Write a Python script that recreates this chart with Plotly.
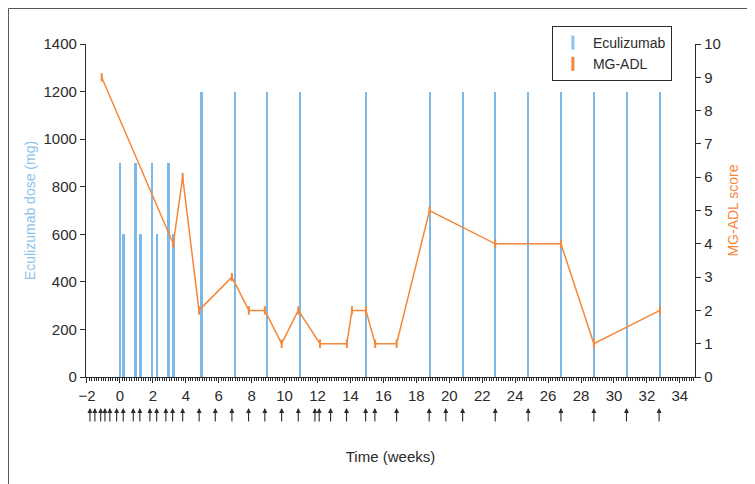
import plotly.graph_objects as go

# ---- data ----
ecu_weeks = [0, 0.22, 0.95, 1.23, 1.94, 2.25, 2.96, 3.24, 4.96, 6.98, 8.93,
             10.93, 14.94, 18.82, 20.83, 22.77, 24.77, 26.78, 28.78, 30.78, 32.79]
ecu_dose = [900, 600, 900, 600, 900, 600, 900, 600, 1200, 1200, 1200,
            1200, 1200, 1200, 1200, 1200, 1200, 1200, 1200, 1200, 1200]

mg_weeks = [-1.11, 3.24, 3.81, 4.8, 6.8, 7.83, 8.8, 9.82, 10.83, 12.15,
            13.78, 14.09, 14.94, 15.5, 16.8, 18.8, 22.79, 26.78, 28.78, 32.79]
mg_score = [9, 4, 6, 2, 3, 2, 2, 1, 2, 1, 1, 2, 2, 1, 1, 5, 4, 4, 1, 2]

arrow_weeks = [-1.82, -1.52, -1.17, -0.91, -0.61, -0.2, 0.2, 0.81, 1.21, 1.82,
               2.23, 2.79, 3.2, 3.81, 4.81, 5.79, 6.8, 7.81, 8.8, 9.82, 10.83,
               11.84, 12.1, 12.79, 13.76, 14.92, 15.48, 16.8, 18.78, 19.79,
               20.81, 22.79, 24.79, 26.78, 28.78, 30.76, 32.74]

x_ticks = list(range(-2, 35, 2))

BLUE = "#7DB9E8"
BLUE_T = "#8DC3EC"
ORANGE = "#F5873A"
DARK = "#2b2b2b"
FONT = "Liberation Sans, Arial, sans-serif"

fig = go.Figure()

fig.add_trace(go.Bar(x=ecu_weeks, y=ecu_dose, width=0.16, marker=dict(color=BLUE, line=dict(width=0)),
                     name="Eculizumab", showlegend=False, yaxis="y"))
fig.add_trace(go.Scatter(x=mg_weeks, y=mg_score, mode="lines+markers", yaxis="y2",
                         line=dict(color=ORANGE, width=1.5),
                         marker=dict(symbol="line-ns", size=6, line=dict(color=ORANGE, width=2)),
                         name="MG-ADL", showlegend=False))
# legend entries (vertical bar symbols)
fig.add_trace(go.Scatter(x=[None], y=[None], mode="markers", name="Eculizumab",
                         marker=dict(symbol="line-ns", size=10, line=dict(color=BLUE_T, width=3))))
fig.add_trace(go.Scatter(x=[None], y=[None], mode="markers", name="MG-ADL", yaxis="y2",
                         marker=dict(symbol="line-ns", size=10, line=dict(color=ORANGE, width=3))))

annotations = []
for t in arrow_weeks:
    annotations.append(dict(x=t, xref="x", y=-0.093, yref="paper", text="", showarrow=True,
                            ax=0, ay=15, axref="pixel", ayref="pixel", arrowhead=2, arrowsize=0.9,
                            arrowwidth=1.1, arrowcolor=DARK, standoff=0, startstandoff=0))

# page is shown with an 8px body offset; the figure is sized to fit that
shapes = [
    dict(type="line", xref="paper", yref="paper", x0=-0.1273, x1=1.2, y0=1.1066, y1=1.1066,
         line=dict(color="#555", width=1)),
    dict(type="line", xref="paper", yref="paper", x0=-0.1273, x1=-0.1273, y0=-0.4, y1=1.1066,
         line=dict(color="#555", width=1)),
]

fig.update_layout(
    width=747, height=476,
    margin=dict(l=78, r=60, t=36, b=107, autoexpand=False),
    paper_bgcolor="white", plot_bgcolor="white",
    font=dict(family=FONT, size=15, color=DARK),
    bargap=0,
    showlegend=True,
    legend=dict(x=0.765, y=1.054, xanchor="left", yanchor="top", bordercolor=DARK, borderwidth=1,
                bgcolor="white", font=dict(size=14, family=FONT, color=DARK),
                tracegroupgap=0, itemwidth=30),
    xaxis=dict(range=[-2.06, 34.92], tickmode="array", tickvals=x_ticks, automargin=False,
               showgrid=False, zeroline=False, showline=True, linecolor=DARK, linewidth=1.3,
               ticks="outside", ticklen=5, tickwidth=1.2, tickcolor=DARK,
               minor=dict(dtick=1/7, tick0=0, ticks="outside", ticklen=2.5, tickwidth=0.8, tickcolor=DARK),
               tickfont=dict(size=15, family=FONT),
               title=dict(text="Time (weeks)", font=dict(size=15, family=FONT), standoff=48)),
    yaxis=dict(range=[0, 1400], dtick=200, showgrid=False, zeroline=False, showline=True, automargin=False,
               linecolor=DARK, linewidth=1.3, ticks="outside", ticklen=5, tickwidth=1.2, tickcolor=DARK,
               tickfont=dict(size=15, family=FONT),
               title=dict(text="Eculizumab dose (mg)", font=dict(size=14, color=BLUE_T, family=FONT), standoff=4)),
    yaxis2=dict(range=[0, 10], dtick=1, overlaying="y", side="right", showgrid=False, zeroline=False,
                automargin=False,
                showline=True, linecolor=DARK, linewidth=1.3, ticks="outside", ticklen=5, tickwidth=1.2,
                tickcolor=DARK, tickfont=dict(size=15, family=FONT),
                title=dict(text="MG-ADL score", font=dict(size=14, color=ORANGE, family=FONT), standoff=8)),
    annotations=annotations,
    shapes=shapes,
)

fig.write_html("out.html")
